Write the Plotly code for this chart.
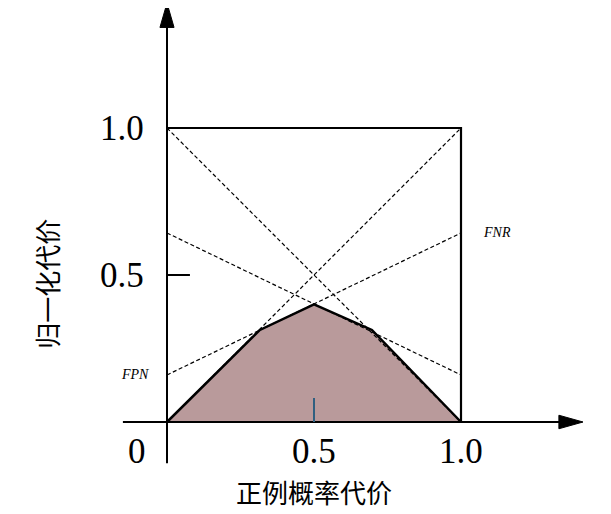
import plotly.graph_objects as go

# cost lines: each classifier goes from (0, FPR) to (1, FNR)
cls_fpr = [0.0, 1.0, 0.16, 0.643]
cls_fnr = [1.0, 0.0, 0.643, 0.16]

# lower envelope (expected total cost)
env_x = [0.0, 0.316, 0.5, 0.697, 1.0]
env_y = [0.0, 0.313, 0.40, 0.313, 0.0]

tick_vals = [0.5, 1.0]
tick_text = ["0.5", "1.0"]

num_font = dict(family="Liberation Serif", size=35, color="black")
cjk_font = dict(family="Noto Sans CJK SC", size=26, color="black")

fig = go.Figure()

# shaded area under the envelope
fig.add_trace(go.Scatter(x=env_x, y=env_y, fill="toself", fillcolor="#b99a9b",
                         mode="lines", line=dict(color="#b99a9b", width=0),
                         hoverinfo="skip"))

# dashed cost lines
for fp, fn in zip(cls_fpr, cls_fnr):
    fig.add_trace(go.Scatter(x=[0, 1], y=[fp, fn], mode="lines",
                             line=dict(color="black", width=1.2, dash="4px,2.5px")))

# envelope outline
fig.add_trace(go.Scatter(x=env_x, y=env_y, mode="lines",
                         line=dict(color="black", width=2.5)))

# box top + right side
fig.add_trace(go.Scatter(x=[0, 1, 1], y=[1, 1, 0], mode="lines",
                         line=dict(color="black", width=2.2)))

# axes
fig.add_trace(go.Scatter(x=[0, 0], y=[-0.14, 1.36], mode="lines",
                         line=dict(color="black", width=2)))
fig.add_trace(go.Scatter(x=[-0.15, 1.35], y=[0, 0], mode="lines",
                         line=dict(color="black", width=2)))

# arrow heads
fig.add_shape(type="path", path="M -0.024 1.342 L 0.024 1.342 L 0 1.425 Z",
              fillcolor="black", line=dict(color="black", width=1))
fig.add_shape(type="path", path="M 1.333 -0.023 L 1.333 0.023 L 1.415 0 Z",
              fillcolor="black", line=dict(color="black", width=1))

# small tick marks
fig.add_trace(go.Scatter(x=[0, 0.078], y=[0.5, 0.5], mode="lines",
                         line=dict(color="black", width=2)))
fig.add_trace(go.Scatter(x=[0.5, 0.5], y=[0, 0.082], mode="lines",
                         line=dict(color="#2f5f80", width=2)))

# tick labels
for v, t in zip(tick_vals, tick_text):
    fig.add_annotation(x=v, y=-0.102, text=t, showarrow=False, font=num_font)
    fig.add_annotation(x=-0.153, y=v, text=t, showarrow=False, font=num_font)
fig.add_annotation(x=-0.102, y=-0.102, text="0", showarrow=False, font=num_font)

fig.add_annotation(x=-0.109, y=0.16, text="<i>FPN</i>", showarrow=False,
                   font=dict(family="Liberation Serif", size=14, color="black"))
fig.add_annotation(x=1.122, y=0.643, text="<i>FNR</i>", showarrow=False,
                   font=dict(family="Liberation Serif", size=14, color="black"))

fig.add_annotation(x=0.5, y=-0.238, text="正例概率代价", showarrow=False, font=cjk_font)
fig.add_annotation(x=-0.408, y=0.47, text="归一化代价", showarrow=False, textangle=-90,
                   font=cjk_font)

# page body has an 8px margin, so shift the data frame to compensate
fig.update_layout(
    width=611, height=514, autosize=False,
    margin=dict(l=0, r=0, t=0, b=0),
    plot_bgcolor="white", paper_bgcolor="white",
    showlegend=False,
    xaxis=dict(range=[-159 / 294, 452 / 294], visible=False, fixedrange=True),
    yaxis=dict(range=[-100 / 294, 414 / 294], visible=False, fixedrange=True),
)

fig.write_html("out.html")
